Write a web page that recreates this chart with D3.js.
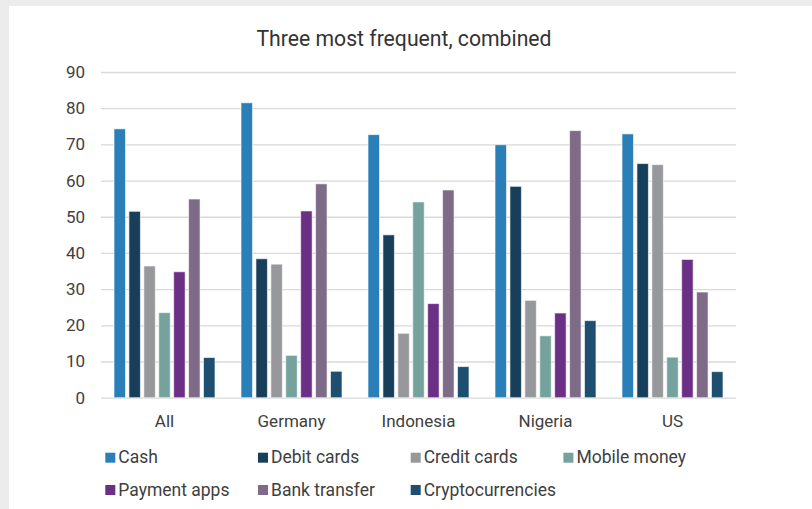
<!DOCTYPE html>
<html>
<head>
<meta charset="utf-8">
<script src="https://cdn.jsdelivr.net/npm/d3@7"></script>
<style>
  body { margin: 0; background: #ececec; }
  text { font-family: Roboto, "Noto Sans", sans-serif; }
</style>
</head>
<body>
<div id="chart"></div>
<script>
// chart data
const title = "Three most frequent, combined";
const countries = ["All", "Germany", "Indonesia", "Nigeria", "US"];
const methods = ["Cash", "Debit cards", "Credit cards", "Mobile money", "Payment apps", "Bank transfer", "Cryptocurrencies"];
const colors = ["#2b7fb8", "#183f5a", "#97989c", "#75a29d", "#6b2f85", "#7e6b87", "#1f4f70"];
const yTicks = [0, 10, 20, 30, 40, 50, 60, 70, 80, 90];
// values per country, in the order of methods
const cash =    [74.3, 81.5, 72.7, 69.9, 72.9];
const debit =   [51.5, 38.4, 45.0, 58.4, 64.7];
const credit =  [36.4, 36.9, 17.8, 26.9, 64.4];
const mobile =  [23.5, 11.7, 54.1, 17.1, 11.2];
const payApps = [34.8, 51.6, 26.0, 23.4, 38.2];
const bank =    [54.9, 59.1, 57.4, 73.8, 29.2];
const crypto =  [11.1, 7.3, 8.6, 21.3, 7.2];
const series = [cash, debit, credit, mobile, payApps, bank, crypto];

const width = 812, height = 509;
const margin = {top: 72, right: 76, bottom: 111, left: 101};

let svg = d3.select('#chart')
    .append('svg')
        .attr('width', width)
        .attr('height', height);

// white panel over the grey page
svg.append('rect')
    .attr('x', 9).attr('y', 6)
    .attr('width', width - 9).attr('height', height - 6)
    .attr('fill', '#ffffff');

svg.append('text')
    .attr('x', 404)
    .attr('y', 46)
    .attr('text-anchor', 'middle')
    .attr('font-size', 21.2)
    .attr('fill', '#333333')
    .text(title);

const x0 = d3.scaleBand()
    .domain(countries)
    .range([margin.left, width - margin.right])
    .paddingInner(0.205)
    .paddingOuter(0.1025);

const x1 = d3.scaleBand()
    .domain(methods)
    .range([0, x0.bandwidth()])
    .paddingInner(0.23);

const y = d3.scaleLinear()
    .domain([0, 90])
    .range([height - margin.bottom - 0.3, margin.top]);

const color = d3.scaleOrdinal().domain(methods).range(colors);

// gridlines + y labels
const yAxis = svg.append('g')
    .attr('transform', `translate(${margin.left},0)`)
    .call(d3.axisLeft(y).tickValues(yTicks)
        .tickSize(-(width - margin.left - margin.right))
        .tickPadding(16)
        .tickFormat(d3.format('d')));
yAxis.select('.domain').remove();
yAxis.selectAll('.tick line').attr('stroke', '#d9d9d9').attr('stroke-width', 1.3);
yAxis.selectAll('.tick text')
    .attr('font-size', 17)
    .attr('fill', '#404040')
    .style('font-family', 'Roboto, sans-serif');

// bars
const groups = svg.append('g')
    .selectAll('g')
    .data(countries)
    .join('g')
        .attr('transform', d => `translate(${x0(d)},0)`);

groups.selectAll('rect')
    .data((c, ci) => methods.map((m, mi) => ({method: m, value: series[mi][ci]})))
    .join('rect')
        .attr('x', d => x1(d.method))
        .attr('y', d => y(d.value))
        .attr('width', x1.bandwidth())
        .attr('height', d => y(0) - y(d.value))
        .attr('fill', d => color(d.method))
        .attr('stroke', '#ffffff')
        .attr('stroke-opacity', 0.6)
        .attr('stroke-width', 1);

// x labels
const xAxis = svg.append('g')
    .attr('transform', `translate(0,${y(0)})`)
    .call(d3.axisBottom(x0).tickSize(0).tickPadding(17));
xAxis.select('.domain').remove();
xAxis.selectAll('.tick text')
    .attr('font-size', 17)
    .attr('fill', '#404040')
    .style('font-family', 'Roboto, sans-serif');

// legend, 4 columns
const legCols = 4;
const legX = d3.scaleLinear().domain([0, 1]).range([105.3, 258]);
const legY = d3.scaleLinear().domain([0, 1]).range([457.7, 490]);

const leg = svg.append('g')
    .selectAll('g')
    .data(methods)
    .join('g')
        .attr('transform', (d, i) => `translate(${legX(i % legCols)},${legY(Math.floor(i / legCols))})`);

leg.append('rect')
    .attr('x', 0).attr('y', -5)
    .attr('width', 10).attr('height', 10)
    .attr('fill', d => color(d));

leg.append('text')
    .attr('x', 13)
    .attr('y', 5.7)
    .attr('font-size', 17.5)
    .attr('fill', '#404040')
    .text(d => d);
</script>
</body>
</html>
